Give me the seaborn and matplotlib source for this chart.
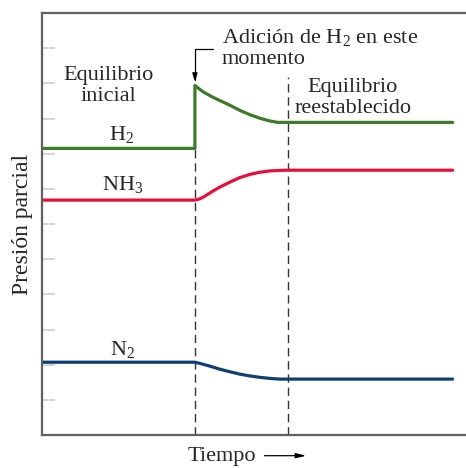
import pandas as pd
import seaborn as sns
import matplotlib.pyplot as plt

# time (arbitrary units) and partial pressures
t_h2 = [0, 4.35, 4.35, 4.50, 4.63, 4.85, 5.06, 5.34, 5.63, 5.91, 6.19, 6.48, 6.70, 11.68]
p_h2 = [8.15, 8.15, 9.94, 9.82, 9.73, 9.61, 9.51, 9.38, 9.23, 9.11, 9.01, 8.93, 8.89, 8.89]

t_nh3 = [0, 4.35, 4.50, 4.63, 4.85, 5.06, 5.34, 5.63, 5.91, 6.19, 6.48, 6.91, 11.68]
p_nh3 = [6.68, 6.68, 6.72, 6.79, 6.93, 7.05, 7.19, 7.32, 7.41, 7.47, 7.51, 7.53, 7.53]

t_n2 = [0, 4.35, 4.55, 4.77, 5.06, 5.34, 5.63, 5.91, 6.19, 6.48, 6.76, 11.68]
p_n2 = [2.07, 2.07, 2.02, 1.96, 1.87, 1.80, 1.73, 1.68, 1.64, 1.61, 1.59, 1.59]

# moment of H2 addition and moment equilibrium is re-established
t_events = [4.35, 7.0]
event_tops = [8.15, 10.18]

colors = {"H2": "#3d7a2a", "NH3": "#e3103c", "N2": "#0f3f6f"}


def main():
    sns.set_style("white")
    plt.rcParams["font.family"] = ["Liberation Serif", "DejaVu Serif"]
    plt.rcParams["mathtext.fontset"] = "custom"
    plt.rcParams["mathtext.rm"] = "Liberation Serif"
    plt.rcParams["mathtext.it"] = "Liberation Serif:italic"

    fig = plt.figure(figsize=(4.66, 4.68), dpi=100)
    ax = fig.add_axes([0.0901, 0.0705, 0.9099, 0.9017])

    series = [("H2", t_h2, p_h2), ("NH3", t_nh3, p_nh3), ("N2", t_n2, p_n2)]
    for name, t, p in series:
        df = pd.DataFrame({"t": t, "p": p})
        sns.lineplot(data=df, x="t", y="p", ax=ax, estimator=None, sort=False,
                     color=colors[name], linewidth=2.3)

    ax.vlines(t_events, [0, 0], event_tops, colors="#333333", linewidth=1.0,
              linestyles=(0, (6, 3.5)), zorder=1)

    ax.set_xlim(0, 12.06)
    ax.set_ylim(0, 12)
    ax.set_xticks([])
    ax.set_yticks(range(1, 12))
    ax.set_yticklabels([])
    ax.tick_params(axis="y", direction="in", length=9, width=1.2,
                   color="#d0d0d0", left=True)
    for side in ["left", "bottom", "top"]:
        ax.spines[side].set_color("#606060")
        ax.spines[side].set_linewidth(1.6)
    ax.spines["right"].set_visible(False)

    ax.set_xlabel("")
    ax.set_ylabel("Presión parcial", fontsize=17, labelpad=3)

    fs = 16
    ax.text(1.88, 9.92, "Equilibrio\ninicial", ha="center", va="center",
            fontsize=fs, linespacing=1.12)
    ax.text(2.27, 8.39, "H$_2$", ha="center", va="baseline", fontsize=fs)
    ax.text(2.30, 6.97, "NH$_3$", ha="center", va="baseline", fontsize=fs)
    ax.text(2.30, 2.27, "N$_2$", ha="center", va="baseline", fontsize=fs)
    ax.text(5.12, 11.15, "Adición de H$_2$ en este", ha="left", va="baseline",
            fontsize=fs)
    ax.text(5.12, 10.55, "momento", ha="left", va="baseline", fontsize=fs)
    ax.text(8.84, 9.58, "Equilibrio\nreestablecido", ha="center", va="center",
            fontsize=fs, linespacing=1.12)

    ax.annotate("", xy=(4.35, 10.04), xytext=(4.86, 10.97),
                arrowprops=dict(arrowstyle="-|>,head_length=0.5,head_width=0.15",
                                connectionstyle="angle,angleA=0,angleB=90,rad=0",
                                color="black", lw=0.9, shrinkA=0, shrinkB=0))

    ax.text(0.4245, -0.061, "Tiempo", transform=ax.transAxes, ha="center",
            va="baseline", fontsize=fs)
    ax.annotate("", xy=(0.623, -0.049), xytext=(0.525, -0.049),
                xycoords="axes fraction", textcoords="axes fraction",
                arrowprops=dict(arrowstyle="-|>,head_length=0.6,head_width=0.15",
                                color="black", lw=0.9, shrinkA=0, shrinkB=0),
                annotation_clip=False)

    fig.savefig("out.png", dpi=100)


if __name__ == "__main__":
    main()
